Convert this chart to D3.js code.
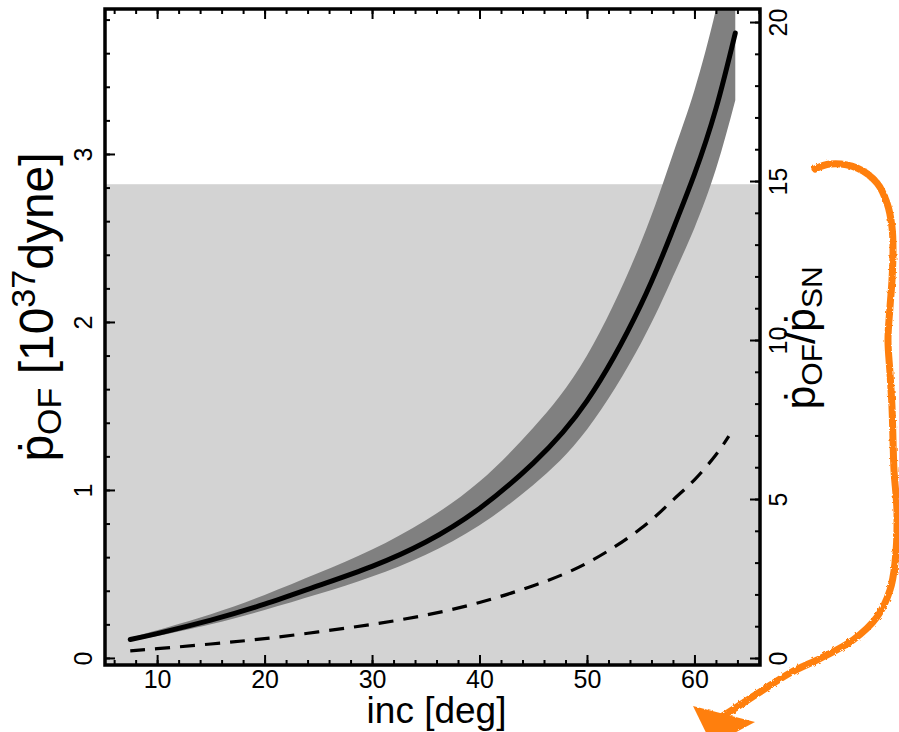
<!DOCTYPE html>
<html>
<head>
<meta charset="utf-8">
<script src="https://cdn.jsdelivr.net/npm/d3@7"></script>
<style>
  body { margin: 0; background: #fff; }
  svg { display: block; font-family: "Liberation Sans", Arial, sans-serif; }
</style>
</head>
<body>
<div id="chart"></div>
<script>
// inclination grid [deg]
var inc = [7.5, 10, 15, 20, 25, 30, 35, 40, 45, 50, 55, 58, 60, 62, 63.8]
// outflow momentum rate [1e37 dyne], best value and band
var pdot = [0.11, 0.145, 0.225, 0.32, 0.43, 0.545, 0.69, 0.89, 1.16, 1.53, 2.10, 2.55, 2.88, 3.27, 3.72]
var pdotHi = [0.12, 0.165, 0.26, 0.375, 0.505, 0.645, 0.82, 1.05, 1.37, 1.80, 2.47, 3.0, 3.38, 3.86, 4.39]
var pdotLo = [0.10, 0.13, 0.20, 0.285, 0.38, 0.485, 0.615, 0.79, 1.03, 1.36, 1.87, 2.27, 2.56, 2.91, 3.32]
// dashed curve
var incDash = [7.5, 10, 15, 20, 25, 30, 35, 40, 45, 50, 55, 58, 60, 62, 63.2]
var pdotDash = [0.042, 0.055, 0.083, 0.115, 0.155, 0.20, 0.255, 0.33, 0.43, 0.565, 0.77, 0.94, 1.06, 1.21, 1.32]
// shaded limit
var shadeTop = 2.82

var xDomain = [5.15, 66.1]
var yDomain = [-0.042, 3.863]
var ratioDomain = [-0.22, 20.41]
var xTicks = [10, 20, 30, 40, 50, 60]
var yTicks = [0, 1, 2, 3]
var ratioTicks = [0, 5, 10, 15, 20]

var W = 899, H = 732
var margin = {top: 9, right: 139, bottom: 67, left: 105}
var width = W - margin.left - margin.right,
    height = H - margin.top - margin.bottom

var svg = d3.select("#chart").append("svg")
    .attr("width", W).attr("height", H)

var g = svg.append("g")
    .attr("transform", "translate(" + margin.left + "," + margin.top + ")")

var x = d3.scaleLinear().domain(xDomain).range([0, width])
var y = d3.scaleLinear().domain(yDomain).range([height, 0])
var y2 = d3.scaleLinear().domain(ratioDomain).range([height, 0])

g.append("clipPath").attr("id", "clip")
  .append("rect").attr("width", width).attr("height", height)

var plot = g.append("g").attr("clip-path", "url(#clip)")

// light grey shaded region
plot.append("rect")
    .attr("x", 0).attr("width", width)
    .attr("y", y(shadeTop)).attr("height", height - y(shadeTop))
    .attr("fill", "#d3d3d3")

var band = inc.map(function(d, i) { return {x: d, lo: pdotLo[i], hi: pdotHi[i]} })
plot.append("path")
    .datum(band)
    .attr("fill", "#808080")
    .attr("d", d3.area()
      .curve(d3.curveNatural)
      .x(function(d) { return x(d.x) })
      .y0(function(d) { return y(d.lo) })
      .y1(function(d) { return y(d.hi) }))

var solid = inc.map(function(d, i) { return {x: d, y: pdot[i]} })
plot.append("path")
    .datum(solid)
    .attr("fill", "none")
    .attr("stroke", "#000")
    .attr("stroke-width", 5)
    .attr("stroke-linecap", "round")
    .attr("d", d3.line().curve(d3.curveNatural)
      .x(function(d) { return x(d.x) })
      .y(function(d) { return y(d.y) }))

var dashed = incDash.map(function(d, i) { return {x: d, y: pdotDash[i]} })
plot.append("path")
    .datum(dashed)
    .attr("fill", "none")
    .attr("stroke", "#000")
    .attr("stroke-width", 3.2)
    .attr("stroke-dasharray", "15,10")
    .attr("d", d3.line().curve(d3.curveNatural)
      .x(function(d) { return x(d.x) })
      .y(function(d) { return y(d.y) }))

// axes, ticks pointing inward
function styleAxis(sel) {
  sel.select(".domain").remove()
  sel.selectAll("line").attr("stroke", "#000").attr("stroke-width", 2)
  sel.selectAll("text").attr("font-size", 25).attr("fill", "#000")
}

var xMinor = d3.range(6, 66.1, 2)
g.append("g").attr("transform", "translate(0," + height + ")")
  .call(d3.axisBottom(x).tickValues(xMinor).tickSize(-5).tickFormat(""))
  .call(styleAxis)
g.append("g").attr("transform", "translate(0," + height + ")")
  .call(d3.axisBottom(x).tickValues(xTicks).tickSize(-10).tickPadding(5).tickFormat(d3.format("d")))
  .call(styleAxis)
g.append("g")
  .call(d3.axisTop(x).tickValues(xMinor).tickSize(-5).tickFormat(""))
  .call(styleAxis)
g.append("g")
  .call(d3.axisTop(x).tickValues(xTicks).tickSize(-10).tickFormat(""))
  .call(styleAxis)

var yMinor = d3.range(0, 3.81, 0.2)
g.append("g")
  .call(d3.axisLeft(y).tickValues(yMinor).tickSize(-5).tickFormat(""))
  .call(styleAxis)
var yAx = g.append("g")
  .call(d3.axisLeft(y).tickValues(yTicks).tickSize(-10).tickFormat(d3.format("d")))
  .call(styleAxis)
yAx.selectAll("text")
  .attr("x", null).attr("dy", null)
  .attr("text-anchor", "middle")
  .attr("transform", "translate(-13,0) rotate(-90)")

var rMinor = d3.range(0, 20.1, 1)
g.append("g").attr("transform", "translate(" + width + ",0)")
  .call(d3.axisRight(y2).tickValues(rMinor).tickSize(-5).tickFormat(""))
  .call(styleAxis)
var rAx = g.append("g").attr("transform", "translate(" + width + ",0)")
  .call(d3.axisRight(y2).tickValues(ratioTicks).tickSize(-10).tickFormat(d3.format("d")))
  .call(styleAxis)
rAx.selectAll("text")
  .attr("x", null).attr("dy", null)
  .attr("text-anchor", "middle")
  .attr("transform", "translate(27,0) rotate(-90)")

// frame
g.append("rect")
    .attr("width", width).attr("height", height)
    .attr("fill", "none").attr("stroke", "#000").attr("stroke-width", 3.5)

// axis titles
svg.append("text")
    .attr("x", margin.left + x(36)).attr("y", 723)
    .attr("text-anchor", "middle")
    .attr("font-size", 37)
    .text("inc [deg]")

var lt = svg.append("text")
    .attr("text-anchor", "middle")
    .attr("font-size", 48)
    .attr("transform", "translate(53,307) rotate(-90)")
lt.append("tspan").text("ṗ")
lt.append("tspan").attr("font-size", 34).attr("dy", 8).text("OF")
lt.append("tspan").attr("dy", -8).text(" [10")
lt.append("tspan").attr("font-size", 34).attr("dy", -18).text("37")
lt.append("tspan").attr("dy", 18).text("dyne]")

var rt = svg.append("text")
    .attr("text-anchor", "middle")
    .attr("font-size", 43)
    .attr("transform", "translate(815,338) rotate(-90)")
rt.append("tspan").text("ṗ")
rt.append("tspan").attr("font-size", 30).attr("dy", 7).text("OF")
rt.append("tspan").attr("dy", -7).text("/ṗ")
rt.append("tspan").attr("font-size", 30).attr("dy", 7).text("SN")

// hand-drawn orange arrow annotation (pixel space)
var defs = svg.append("defs")
var f = defs.append("filter").attr("id", "rough")
f.append("feTurbulence").attr("type", "fractalNoise").attr("baseFrequency", 0.35).attr("numOctaves", 2).attr("result", "n")
f.append("feDisplacementMap").attr("in", "SourceGraphic").attr("in2", "n").attr("scale", 3)

var arrowPts = [[815,169],[830,164],[857,168],[877,183],[887,203],[892,227],[893,250],[892,280],
  [890,307],[888,340],[890,373],[892,407],[893,440],[894,470],[897,513],[895,563],[890,590],
  [877,617],[853,640],[823,657],[790,673],[763,690],[737,707],[718,719]]
var ann = svg.append("g").attr("filter", "url(#rough)")
ann.append("path")
    .attr("d", d3.line().curve(d3.curveCatmullRom)(arrowPts))
    .attr("fill", "none")
    .attr("stroke", "#ff7f0e")
    .attr("stroke-width", 7)
    .attr("stroke-linecap", "round")
ann.append("path")
    .attr("d", "M693,706 L755,722 L712,745 Z")
    .attr("fill", "#ff7f0e")
</script>
</body>
</html>
